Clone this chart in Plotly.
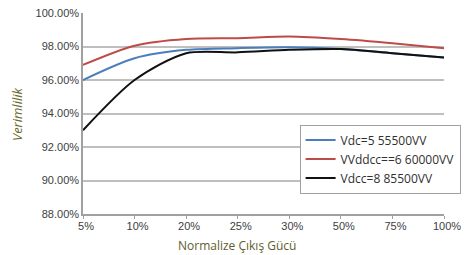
import plotly.graph_objects as go

categories = ["5%", "10%", "20%", "25%", "30%", "50%", "75%", "100%"]
series_names = ["Vdc=5 55500VV", "VVddcc==6 60000VV", "Vdcc=8 85500VV"]
blue_vals = [96.0, 97.3, 97.8, 97.9, 97.95, 97.85, 97.6, 97.35]
red_vals = [96.9, 98.05, 98.45, 98.5, 98.6, 98.45, 98.2, 97.9]
black_vals = [93.0, 96.0, 97.6, 97.65, 97.8, 97.85, 97.6, 97.35]
y_ticks = [88, 90, 92, 94, 96, 98, 100]
y_ticklabels = ["88.00%", "90.00%", "92.00%", "94.00%", "96.00%", "98.00%", "100.00%"]
x_title = "Normalize Çıkış Gücü"
y_title = "Verimlilik"

colors = ["#4a7ebb", "#be4b48", "#111111"]

fig = go.Figure()
for name, vals, c in zip(series_names, [blue_vals, red_vals, black_vals], colors):
    fig.add_trace(go.Scatter(
        x=list(range(len(categories))), y=vals, name=name, mode="lines",
        line=dict(color=c, width=2, shape="spline", smoothing=0.8),
    ))

fig.update_layout(
    width=467, height=255,
    margin=dict(l=83, r=23, t=13, b=41, autoexpand=False),
    paper_bgcolor="white", plot_bgcolor="white",
    font=dict(family="Liberation Sans", size=11, color="#404040"),
    showlegend=True,
    legend=dict(
        x=0.60, y=0.445, xanchor="left", yanchor="top",
        bgcolor="white", bordercolor="#a0a0a0", borderwidth=1,
        font=dict(family="Open Sans", size=12, color="#303030"),
        tracegroupgap=0, itemwidth=30,
    ),
    xaxis=dict(
        tickmode="array", tickvals=list(range(len(categories))), ticktext=categories,
        range=[0, 7], showgrid=False, zeroline=False, automargin=False,
        ticklabeloverflow="allow",
        showline=True, linecolor="#a0a0a0", linewidth=1.5,
        ticks="outside", ticklen=3, tickcolor="#a0a0a0",
        ticklabelstandoff=-2, ticklabelshift=3,
        tickfont=dict(size=11, color="#404040"),
    ),
    yaxis=dict(
        range=[88, 100], tickmode="array", tickvals=y_ticks, ticktext=y_ticklabels,
        showgrid=True, gridcolor="#bfbfbf", gridwidth=1.5, zeroline=False, automargin=False,
        ticklabeloverflow="allow",
        showline=True, linecolor="#a0a0a0", linewidth=1.5,
        ticks="", tickfont=dict(size=11, color="#404040"),
    ),
    annotations=[
        dict(text=x_title, xref="paper", yref="paper", x=(237 - 83) / 361, y=-(245 - 214) / 201,
             xanchor="center", yanchor="middle", showarrow=False,
             font=dict(family="Open Sans", size=12, color="#5e5e2e")),
        dict(text="<i>" + y_title + "</i>", xref="paper", yref="paper", x=(17 - 83) / 361, y=(214 - 115) / 201,
             xanchor="center", yanchor="middle", showarrow=False, textangle=-90,
             font=dict(family="Open Sans", size=13, color="#6b6b2e")),
    ],
)

fig.write_html(
    "out.html",
    config={"displayModeBar": False, "responsive": False},
    post_script="document.body.style.margin='0';document.body.style.overflow='hidden';",
)
